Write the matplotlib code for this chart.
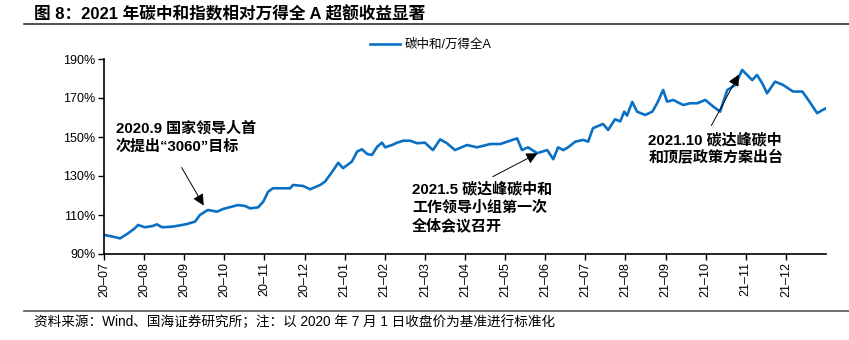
import matplotlib
matplotlib.use('Agg')
import matplotlib.pyplot as plt
from matplotlib.lines import Line2D

plt.rcParams['font.family'] = ['Liberation Sans', 'Noto Sans CJK SC']
plt.rcParams['axes.unicode_minus'] = False

# months since 2020-07-01 and index ratio (%), normalised to 2020-07-01 close
months = [0.02, 0.20, 0.40, 0.60, 0.77, 0.85, 1.02, 1.22, 1.32, 1.45, 1.70, 1.95,
          2.07, 2.27, 2.39, 2.52, 2.59, 2.82, 2.97, 3.19, 3.34, 3.52, 3.64, 3.84,
          3.97, 4.09, 4.21, 4.44, 4.64, 4.71, 4.96, 5.14, 5.39, 5.51, 5.69, 5.84,
          5.96, 6.18, 6.31, 6.43, 6.56, 6.68, 6.81, 6.93, 7.01, 7.18, 7.31, 7.46,
          7.63, 7.81, 8.00, 8.20, 8.38, 8.55, 8.75, 9.05, 9.30, 9.63, 9.88, 10.30,
          10.42, 10.57, 10.80, 11.05, 11.20, 11.32, 11.45, 11.57, 11.75, 11.95, 12.07, 12.19,
          12.44, 12.57, 12.74, 12.87, 12.97, 13.04, 13.17, 13.29, 13.49, 13.67, 13.79, 13.94,
          14.04, 14.19, 14.44, 14.61, 14.79, 14.99, 15.19, 15.36, 15.54, 15.74, 15.91, 15.99,
          16.16, 16.28, 16.41, 16.53, 16.73, 16.93, 17.18, 17.41, 17.56, 17.78, 17.91, 18.00]
ratio = [99.7, 99.0, 98.0, 100.6, 103.2, 104.9, 103.7, 104.4, 105.2, 103.7, 104.0, 104.9,
         105.4, 106.6, 110.0, 111.7, 112.6, 111.7, 113.1, 114.3, 115.1, 114.6, 113.4, 113.9,
         116.8, 121.9, 123.7, 123.7, 123.7, 125.4, 124.9, 123.2, 125.4, 127.1, 132.2, 136.8,
         134.0, 137.4, 142.5, 143.7, 141.3, 140.8, 145.0, 147.1, 144.7, 145.9, 147.1, 148.1,
         148.1, 146.8, 147.1, 143.3, 148.8, 146.8, 143.3, 145.9, 144.7, 146.4, 146.4, 149.3,
         143.3, 144.7, 141.7, 143.3, 138.6, 144.7, 143.3, 144.7, 147.6, 148.5, 147.6, 154.5,
         156.7, 153.6, 159.1, 158.0, 163.0, 161.0, 168.0, 163.0, 161.3, 163.0, 167.3, 174.1,
         168.1, 169.0, 166.4, 167.3, 167.3, 169.0, 165.6, 163.0, 174.1, 176.7, 184.4, 182.7,
         179.2, 181.8, 177.6, 172.4, 178.4, 176.7, 173.3, 173.3, 169.0, 162.2, 163.8, 164.7]

month_labels = ['20–07', '20–08', '20–09', '20–10', '20–11', '20–12',
                '21–01', '21–02', '21–03', '21–04', '21–05', '21–06',
                '21–07', '21–08', '21–09', '21–10', '21–11', '21–12']
yticks = [90, 110, 130, 150, 170, 190]

fig = plt.figure(figsize=(8.49, 3.40), dpi=100)
ax = fig.add_axes([104 / 849, 1 - 254 / 340, 722 / 849, 195 / 340])

ax.plot(months, ratio, color='#0A70C4', linewidth=1.9, label='碳中和/万得全A')

ax.set_xlim(0, 18)
ax.set_ylim(90, 190)
ax.set_xticks(range(len(month_labels)))
ax.set_xticklabels(month_labels, rotation=90, fontsize=9)
ax.set_yticks(yticks)
ax.set_yticklabels(['{}%'.format(v) for v in yticks], fontsize=9)
ax.tick_params(axis='both', direction='out', length=4, width=1, color='black', pad=2)
for side in ['top', 'right']:
    ax.spines[side].set_visible(False)
for side in ['left', 'bottom']:
    ax.spines[side].set_linewidth(1.2)

ax.legend(loc='center left', bbox_to_anchor=(0.422, 0.868), bbox_transform=fig.transFigure,
          frameon=False, handlelength=2.4, handletextpad=0.4, fontsize=9)

arrow = dict(arrowstyle='-|>', color='black', lw=0.7, mutation_scale=17)
note_font = dict(fontsize=10.8, fontweight='bold', linespacing=1.3, ha='left', va='top')

ax.annotate('', xy=(2.52, 113.6), xytext=(1.90, 135.6), arrowprops=arrow)
ax.text(0.30, 158.0, '2020.9 国家领导人首\n次提出“3060”目标', **note_font)

ax.annotate('', xy=(10.87, 142.3), xytext=(9.63, 129.0), arrowprops=arrow)
ax.text(7.68, 127.0, '2021.5 碳达峰碳中和\n工作领导小组第一次\n全体会议召开', **note_font)

ax.annotate('', xy=(15.86, 183.3), xytext=(15.11, 154.6), arrowprops=arrow)
ax.text(13.57, 152.5, '2021.10 碳达峰碳中\n和顶层政策方案出台', **note_font)

# header and footer rules
fig.add_artist(Line2D([24 / 849, 1.0], [1 - 24 / 340] * 2, color='#333333', linewidth=1.2))
fig.add_artist(Line2D([24 / 849, 1.0], [1 - 311 / 340] * 2, color='#555555', linewidth=1.2))

fig.text(34 / 849, 1 - 14 / 340, '图 8：2021 年碳中和指数相对万得全 A 超额收益显著',
         fontsize=12, fontweight='bold', ha='left', va='center')
fig.text(34 / 849, 1 - 322 / 340,
         '资料来源：Wind、国海证券研究所；注：以 2020 年 7 月 1 日收盘价为基准进行标准化',
         fontsize=9.8, ha='left', va='center')

fig.savefig('out.png', dpi=100)
